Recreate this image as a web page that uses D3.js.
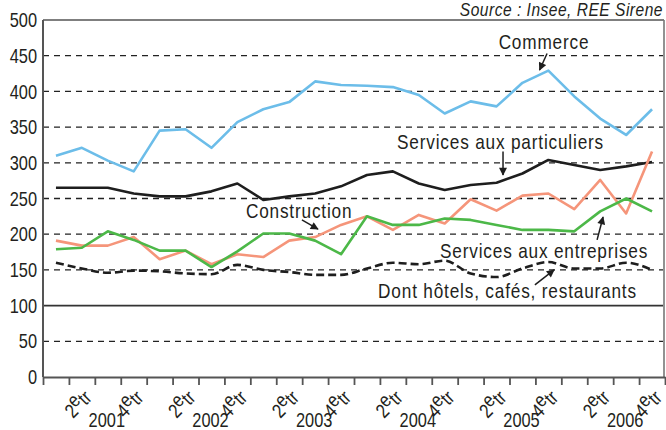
<!DOCTYPE html>
<html><head><meta charset="utf-8">
<script src="https://cdn.jsdelivr.net/npm/d3@7"></script>
<style>
body{margin:0;background:#fff;}
svg text{font-family:"Liberation Sans",Arial,sans-serif;fill:#231f20;}
</style></head><body>
<svg id="c" width="666" height="430"></svg>
<script>
const years = ["2001","2002","2003","2004","2005","2006"];
const quarterNames = ["T1","T2","T3","T4"];
const quarters = years.flatMap(y => quarterNames.map(q => y + "-" + q));
const quarterTickNums = ["", "2", "", "4"];
const yTicks = [0,50,100,150,200,250,300,350,400,450,500];
const referenceValue = 100;

const commerce     = [310,321,303,288,345,347,321,357,375,385,414,409,408,406,395,369,386,379,412,429,393,362,339,375];
const particuliers = [265,265,265,257,253,253,260,271,248,253,257,267,283,288,271,262,269,272,285,304,297,290,295,301];
const construction = [191,184,184,196,165,177,158,172,168,191,196,213,225,206,227,215,249,233,254,257,235,276,229,316];
const entreprises  = [179,181,204,192,177,177,154,176,201,201,191,172,225,213,213,222,220,213,206,206,204,232,250,232];
const hotels       = [160,152,146,149,148,145,144,157,150,147,143,143,152,160,158,163,145,140,152,161,152,152,160,150];

const seriesNames = ["Commerce","Services aux particuliers","Construction","Services aux entreprises","Dont hôtels, cafés, restaurants"];
const seriesValues = [commerce, particuliers, construction, entreprises, hotels];
const seriesColors = ["#6cbde9","#1e1e1e","#f5957a","#4cb848","#1e1e1e"];
const seriesDash = [null,null,null,null,"8,4"];
const seriesSmooth = [false,false,false,false,true];

// annotation placement in data units: label [quarterIndex, value], arrow from -> to
const annotations = [
  {label:[18.83,459], anchor:"middle", from:[18.95,453], to:[18.66,430]},
  {label:[13.16,319], anchor:"start",  from:[17.25,316], to:[17.25,283]},
  {label:[7.33,223],  anchor:"start",  from:[9.49,220],  to:[10.11,207]},
  {label:[14.82,167], anchor:"start",  from:[20.88,192], to:[21.11,224]},
  {label:[12.43,111], anchor:"start",  from:[18.48,129], to:[19.22,150]}
];

const L = 43, R = 665, T = 20, B = 377;
const SX = 0.82;
const svg = d3.select("#c");

const x = d3.scaleBand().domain(quarters).range([L, R]).padding(0);
const xi = d3.scaleLinear().domain([0, quarters.length]).range([L, R]);
const y = d3.scaleLinear().domain([0, 500]).range([B, T]);
const cx = i => x(quarters[i]) + x.bandwidth() / 2;
const px = v => xi(v + 0.5);

function txt(xp, yp, opts) {
  const g = svg.append("g").attr("transform", `translate(${xp},${yp}) rotate(${opts.rotate || 0}) scale(${SX},1)`);
  const t = g.append("text").attr("text-anchor", opts.anchor || "start")
    .style("font-size", opts.size + "px");
  if (opts.spacing) t.style("letter-spacing", opts.spacing + "px");
  if (opts.italic) t.style("font-style", "italic");
  if (opts.baseline) t.attr("dominant-baseline", opts.baseline);
  if (opts.text !== undefined) t.text(opts.text);
  return t;
}

// grid
svg.append("g").selectAll("line").data(yTicks.filter(v => v > 0 && v < 500)).join("line")
  .attr("x1", L).attr("x2", R - 2).attr("y1", d => y(d)).attr("y2", d => y(d))
  .attr("stroke", d => d === referenceValue ? "#333" : "#222")
  .attr("stroke-width", d => d === referenceValue ? 1.6 : 1.3)
  .attr("stroke-dasharray", d => d === referenceValue ? null : "6,5");

// frame top and right
svg.append("line").attr("x1", L).attr("x2", R - 1).attr("y1", y(500)).attr("y2", y(500)).attr("stroke", "#555").attr("stroke-width", 1.6);
svg.append("line").attr("x1", R - 1).attr("x2", R - 1).attr("y1", y(500)).attr("y2", B).attr("stroke", "#777").attr("stroke-width", 1.6);

// y axis
svg.append("line").attr("x1", L).attr("x2", L).attr("y1", y(500)).attr("y2", B).attr("stroke", "#555").attr("stroke-width", 2);
yTicks.forEach(v => txt(L - 6, y(v), {text: v, size: 20, anchor: "end", baseline: "central"}));

// x axis
const xAxis = d3.axisBottom(xi).tickValues(d3.range(0, quarters.length + 1)).tickFormat("").tickSize(8).tickSizeOuter(0);
const gx = svg.append("g").attr("transform", `translate(0,${B})`).call(xAxis);
gx.select(".domain").attr("stroke", "#555").attr("stroke-width", 2);
gx.selectAll(".tick line").attr("stroke", "#555").attr("stroke-width", 1.8);

// quarter labels
quarters.forEach((q, i) => {
  const n = quarterTickNums[i % 4];
  if (!n) return;
  const t = txt(cx(i) + 11, B + 22, {size: 20, anchor: "end", rotate: -45});
  t.append("tspan").text(n);
  t.append("tspan").attr("dy", -6).text("e");
  t.append("tspan").attr("dy", 6).text("tr");
});
// year labels
years.forEach((yr, k) => {
  txt(xi(k * 4 + 2) + 12, 427, {text: yr, size: 20, anchor: "middle"});
});

// lines
seriesValues.forEach((vals, s) => {
  const line = d3.line().x((d, i) => cx(i)).y(d => y(d))
    .curve(seriesSmooth[s] ? d3.curveMonotoneX : d3.curveLinear);
  svg.append("path").datum(vals).attr("d", line).attr("fill", "none")
    .attr("stroke", seriesColors[s]).attr("stroke-width", 2.6)
    .attr("stroke-linejoin", "round")
    .attr("stroke-dasharray", seriesDash[s]);
});

// arrows
svg.append("defs").append("marker").attr("id", "ah").attr("viewBox", "0 0 10 10")
  .attr("refX", 9).attr("refY", 5).attr("markerWidth", 9).attr("markerHeight", 8)
  .attr("markerUnits", "userSpaceOnUse").attr("orient", "auto")
  .append("path").attr("d", "M0,0 L10,5 L0,10 z").attr("fill", "#1e1e1e");

annotations.forEach((a, s) => {
  txt(px(a.label[0]), y(a.label[1]), {text: seriesNames[s], size: 21, anchor: a.anchor, spacing: 1});
  svg.append("line").attr("x1", px(a.from[0])).attr("y1", y(a.from[1]))
    .attr("x2", px(a.to[0])).attr("y2", y(a.to[1]))
    .attr("stroke", "#1e1e1e").attr("stroke-width", 1.5).attr("marker-end", "url(#ah)");
});

// source
txt(663, 16, {text: "Source : Insee, REE Sirene", size: 19, anchor: "end", italic: true, spacing: 0.6});
</script>
</body></html>
